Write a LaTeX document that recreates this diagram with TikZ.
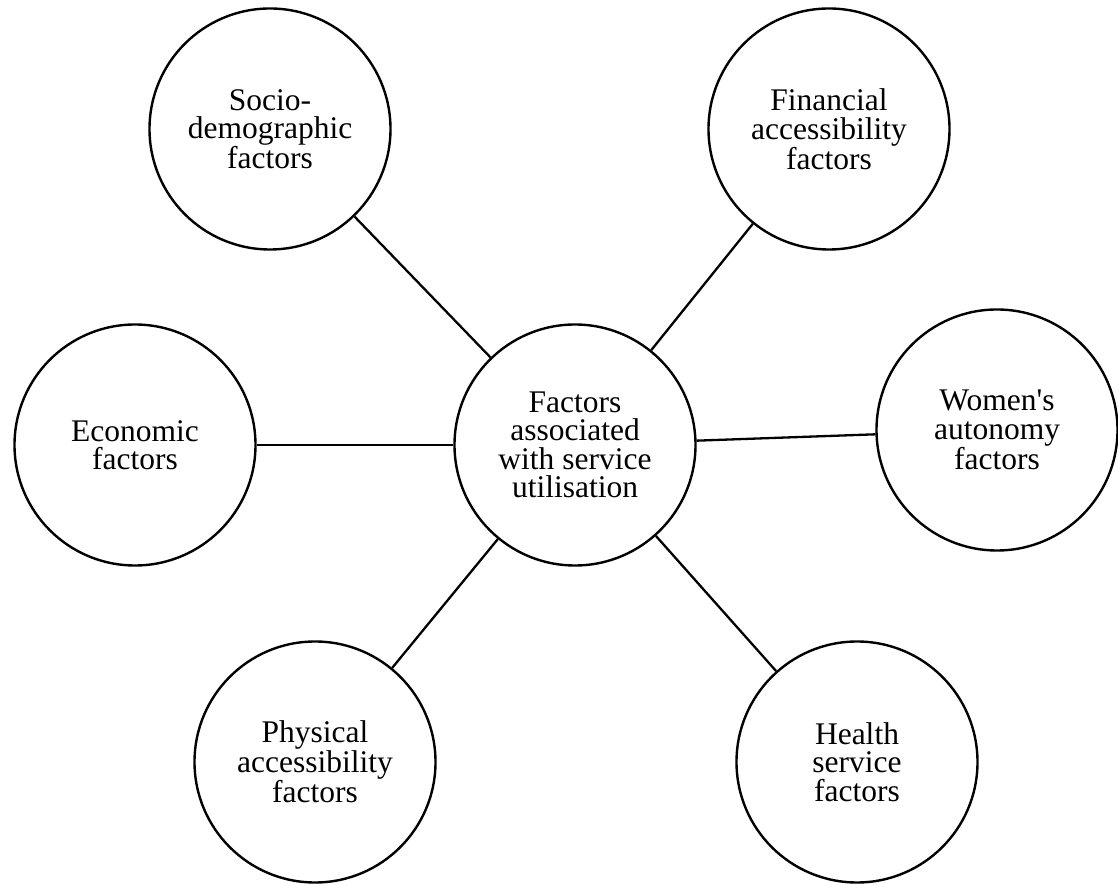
\documentclass[tikz,border=0pt]{standalone}
\usepackage{fontspec}
\setmainfont{Liberation Serif}
\begin{document}
\begin{tikzpicture}[x=1pt,y=1pt,
  factor/.style={circle, draw, line width=2.4pt, minimum size=241pt, inner sep=0pt,
    align=center, font=\fontsize{31.5}{28.5}\selectfont},
  link/.style={line width=2.3pt}]
\useasboundingbox (0,0) rectangle (1118,885);
% hub
\node[factor] (hub) at (575,440) {Factors\\associated\\with service\\utilisation};
% surrounding factor groups
\node[factor] (socio) at (270,756) {Socio-\\demographic\\factors};
\node[factor] (fin)   at (829,756) {Financial\\accessibility\\factors};
\node[factor] (econ)  at (135,440) {Economic\\factors};
\node[factor] (women) at (997,455) {Women\textquotesingle s\\autonomy\\factors};
\node[factor] (phys)  at (315,123) {Physical\\accessibility\\factors};
\node[factor] (health) at (857,123) {Health\\service\\factors};
% spokes
\foreach \n in {socio,fin,econ,women,phys,health}
  \draw[link] (hub) -- (\n);
\end{tikzpicture}
\end{document}
